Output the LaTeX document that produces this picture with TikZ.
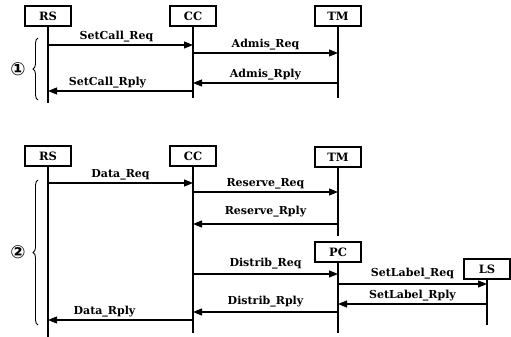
\documentclass[tikz,border=0pt]{standalone}
\usepackage{fontspec}
\setmainfont{DejaVu Serif}
\newfontfamily\circfont{DejaVu Sans}
\usetikzlibrary{arrows.meta,decorations.pathreplacing}

\tikzset{
  actor/.style={draw, line width=1.1pt, minimum width=46pt, minimum height=20pt,
    inner sep=0pt, font=\bfseries\fontsize{11.5}{11.5}\selectfont},
  life/.style={line width=1.4pt},
  msg/.style={line width=1.1pt, -{Triangle[length=9pt,width=7pt]}},
  lbl/.style={above=2pt, inner sep=0pt, font=\bfseries\fontsize{11}{11}\selectfont},
  grp/.style={line width=0.9pt, decorate,
    decoration={brace, amplitude=5pt, mirror}},
  num/.style={font=\circfont\bfseries\fontsize{18}{18}\selectfont, inner sep=0pt}
}

\begin{document}
\begin{tikzpicture}[x=1pt, y=-1pt]
\useasboundingbox (0,0) rectangle (511,337);

% ---- phase 1: call set-up ----
\node[actor] (RS1) at (48,16) {RS};
\node[actor] (CC1) at (193,16) {CC};
\node[actor] (TM1) at (338,16) {TM};

\coordinate (RS1e) at (48,103);
\coordinate (CC1e) at (193,98);
\coordinate (TM1e) at (338,98);
\draw[life] (RS1) -- (RS1e);
\draw[life] (CC1) -- (CC1e);
\draw[life] (TM1) -- (TM1e);

\draw[msg] (RS1 |- 0,45) -- node[lbl, xshift=-4pt]{SetCall\_Req} (CC1 |- 0,45);
\draw[msg] (CC1 |- 0,53) -- node[lbl]{Admis\_Req} (TM1 |- 0,53);
\draw[msg] (TM1 |- 0,83) -- node[lbl]{Admis\_Rply} (CC1 |- 0,83);
\draw[msg] (CC1 |- 0,91) -- node[lbl, xshift=-13pt]{SetCall\_Rply} (RS1 |- 0,91);

\coordinate (B1a) at (38,38);
\coordinate (B1b) at (38,100);
\draw[grp] (B1a) -- (B1b);
\node[num] (N1) at (18,69) {①};

% ---- phase 2: data transfer ----
\node[actor] (RS2) at (48,156) {RS};
\node[actor] (CC2) at (193,156) {CC};
\node[actor] (TM2) at (338,157) {TM};
\node[actor] (PC2) at (338,252) {PC};
\node[actor] (LS2) at (487,269) {LS};

\coordinate (RS2e) at (48,337);
\coordinate (CC2e) at (193,333);
\coordinate (TM2e) at (338,236);
\coordinate (PC2e) at (338,333);
\coordinate (LS2e) at (487,325);
\draw[life] (RS2) -- (RS2e);
\draw[life] (CC2) -- (CC2e);
\draw[life] (TM2) -- (TM2e);
\draw[life] (PC2) -- (PC2e);
\draw[life] (LS2) -- (LS2e);

\draw[msg] (RS2 |- 0,183) -- node[lbl]{Data\_Req} (CC2 |- 0,183);
\draw[msg] (CC2 |- 0,192) -- node[lbl]{Reserve\_Req} (TM2 |- 0,192);
\draw[msg] (TM2 |- 0,224) -- node[lbl, yshift=4pt]{Reserve\_Rply} (CC2 |- 0,224);
\draw[msg] (CC2 |- 0,274) -- node[lbl, yshift=2pt]{Distrib\_Req} (PC2 |- 0,274);
\draw[msg] (PC2 |- 0,284) -- node[lbl, yshift=2pt]{SetLabel\_Req} (LS2 |- 0,284);
\draw[msg] (LS2 |- 0,304) -- node[lbl]{SetLabel\_Rply} (PC2 |- 0,304);
\draw[msg] (PC2 |- 0,312) -- node[lbl, yshift=2pt]{Distrib\_Rply} (CC2 |- 0,312);
\draw[msg] (CC2 |- 0,320) -- node[lbl, xshift=-16pt]{Data\_Rply} (RS2 |- 0,320);

\coordinate (B2a) at (38,180);
\coordinate (B2b) at (38,325);
\draw[grp] (B2a) -- (B2b);
\node[num] (N2) at (18,252) {②};
\end{tikzpicture}
\end{document}
